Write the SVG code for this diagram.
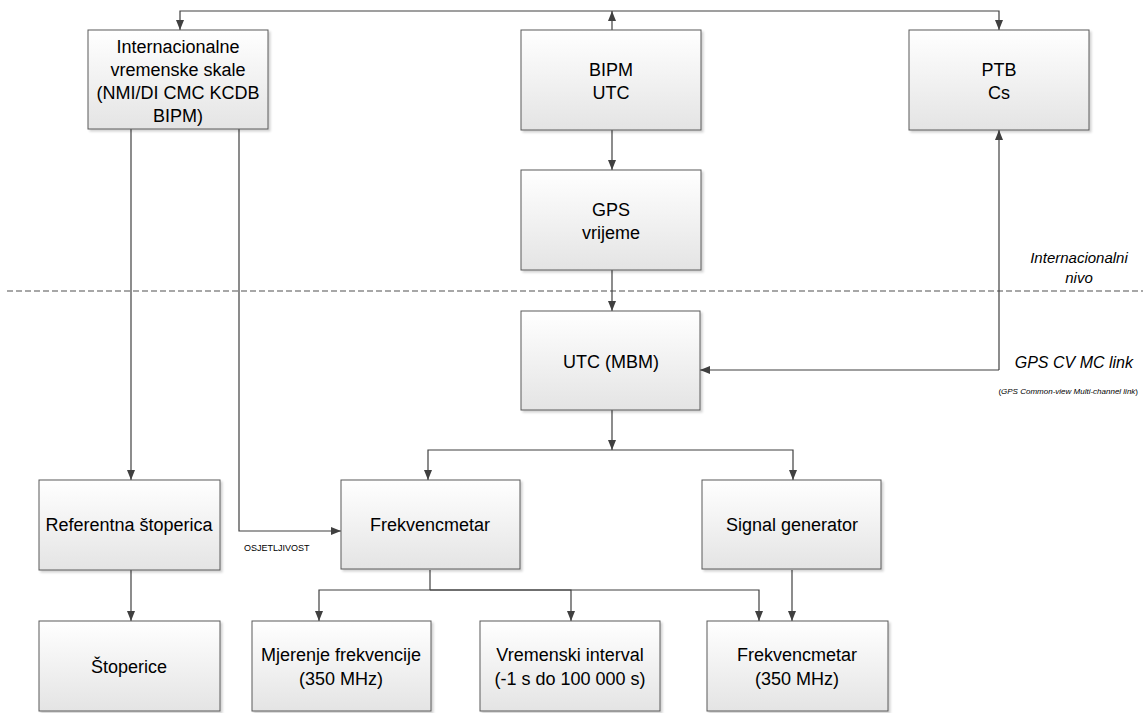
<svg xmlns="http://www.w3.org/2000/svg" width="1143" height="713" viewBox="0 0 1143 713">
<style>
.box{fill:url(#g);stroke:#5a5a5a;stroke-width:1;filter:url(#sh)}
.t{font-family:"Liberation Sans",Arial,sans-serif;font-size:18px;fill:#000;text-anchor:middle}
.c{fill:none;stroke:#404040;stroke-width:1.2}
.ce{fill:none;stroke:#404040;stroke-width:1.2;marker-end:url(#ah)}
.it{font-family:"Liberation Sans",Arial,sans-serif;font-style:italic;fill:#000}
</style>
<defs>
<linearGradient id="g" x1="0" y1="0" x2="0" y2="1">
<stop offset="0" stop-color="#ffffff"/>
<stop offset="1" stop-color="#e4e4e4"/>
</linearGradient>
<filter id="sh" x="-10%" y="-10%" width="125%" height="125%">
<feDropShadow dx="2" dy="2" stdDeviation="1" flood-color="#000" flood-opacity="0.18"/>
</filter>
<marker id="ah" viewBox="0 0 10 10" refX="10" refY="5" markerWidth="10" markerHeight="10" markerUnits="userSpaceOnUse" orient="auto-start-reverse">
<path d="M0,1 L10,5 L0,9 Z" fill="#404040"/>
</marker>
</defs>

<line x1="7" y1="291" x2="1143" y2="291" stroke="#8a8a8a" stroke-width="1.3" stroke-dasharray="6,3"/>

<g id="connectors">
<path class="ce" d="M612,30 V11"/>
<path class="ce" d="M612,11 H180 V30"/>
<path class="ce" d="M612,11 H999 V30"/>
<path class="ce" d="M612,130 V170"/>
<path class="ce" d="M612,270 V311"/>
<path class="ce" d="M131,129 V480"/>
<path class="ce" d="M239,129 V531 H341"/>
<path class="ce" d="M999,370 H700" />
<path class="ce" d="M999,370 V130"/>
<path class="ce" d="M612,410 V450"/>
<path class="ce" d="M612,450 H428 V480"/>
<path class="ce" d="M612,450 H793 V480"/>
<path class="ce" d="M131,570 V621"/>
<path class="c" d="M430,570 V590"/>
<path class="ce" d="M430,590 H319 V621"/>
<path class="ce" d="M430,590 H571 V621"/>
<path class="ce" d="M430,590 H759 V621"/>
<path class="ce" d="M792,570 V621"/>
</g>

<g id="n_int">
<rect class="box" x="88" y="30" width="180" height="99"/>
<text class="t" x="178" y="53">Internacionalne</text>
<text class="t" x="178" y="76">vremenske skale</text>
<text class="t" x="178" y="99">(NMI/DI CMC KCDB</text>
<text class="t" x="178" y="122">BIPM)</text>
</g>
<g id="n_bipm">
<rect class="box" x="521" y="30" width="180" height="100"/>
<text class="t" x="611" y="76">BIPM</text>
<text class="t" x="611" y="99">UTC</text>
</g>
<g id="n_ptb">
<rect class="box" x="909" y="30" width="180" height="100"/>
<text class="t" x="999" y="76">PTB</text>
<text class="t" x="999" y="99">Cs</text>
</g>
<g id="n_gps">
<rect class="box" x="521" y="170" width="180" height="100"/>
<text class="t" x="611" y="216">GPS</text>
<text class="t" x="611" y="239">vrijeme</text>
</g>
<g id="n_utc">
<rect class="box" x="521" y="311" width="179" height="99"/>
<text class="t" x="611" y="368">UTC (MBM)</text>
</g>
<g id="n_ref">
<rect class="box" x="39" y="480" width="181" height="90"/>
<text class="t" x="129" y="531">Referentna štoperica</text>
</g>
<g id="n_frek">
<rect class="box" x="341" y="480" width="179" height="89"/>
<text class="t" x="430" y="531">Frekvencmetar</text>
</g>
<g id="n_sig">
<rect class="box" x="702" y="480" width="179" height="89"/>
<text class="t" x="792" y="531">Signal generator</text>
</g>
<g id="n_stop">
<rect class="box" x="39" y="621" width="181" height="90"/>
<text class="t" x="129" y="673">Štoperice</text>
</g>
<g id="n_mjer">
<rect class="box" x="252" y="621" width="179" height="90"/>
<text class="t" x="341" y="661">Mjerenje frekvencije</text>
<text class="t" x="341" y="685">(350 MHz)</text>
</g>
<g id="n_vrem">
<rect class="box" x="480" y="621" width="180" height="90"/>
<text class="t" x="570" y="661">Vremenski interval</text>
<text class="t" x="570" y="685">(-1 s do 100 000 s)</text>
</g>
<g id="n_frek2">
<rect class="box" x="707" y="621" width="181" height="90"/>
<text class="t" x="797" y="661">Frekvencmetar</text>
<text class="t" x="797" y="685">(350 MHz)</text>
</g>

<g id="labels">
<text class="it" x="1079" y="263" font-size="15" text-anchor="middle">Internacionalni</text>
<text class="it" x="1079" y="283" font-size="15" text-anchor="middle">nivo</text>
<text class="it" x="1133" y="368" font-size="16" text-anchor="end">GPS CV MC link</text>
<text x="1138" y="394" font-family="Liberation Sans, Arial, sans-serif" font-size="8" text-anchor="end">(<tspan font-style="italic">GPS Common-view Multi-channel link</tspan>)</text>
<text x="244" y="551" font-family="Liberation Sans, Arial, sans-serif" font-size="9">OSJETLJIVOST</text>
</g>
</svg>
